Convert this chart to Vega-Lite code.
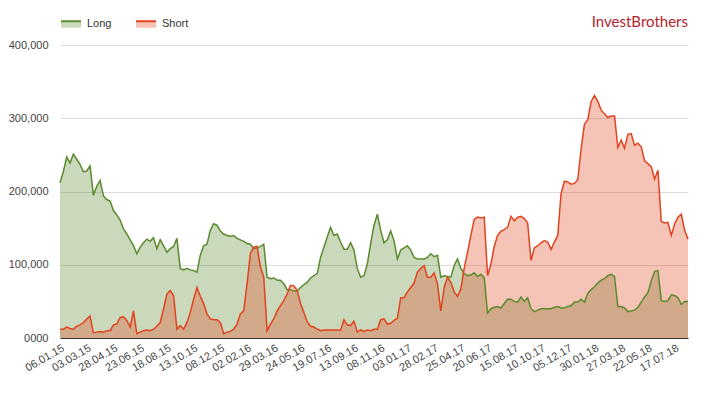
{
  "$schema": "https://vega.github.io/schema/vega-lite/v6.json",
  "width": 628,
  "height": 293,
  "autosize": {"type": "none"},
  "padding": {"left": 60, "top": 45, "right": 21, "bottom": 56},
  "background": "white",
  "title": {
    "text": "InvestBrothers",
    "anchor": "end",
    "frame": "group",
    "font": "Lato",
    "fontSize": 15,
    "fontWeight": "normal",
    "color": "#b3262c",
    "offset": 0,
    "dy": 17
  },
  "config": {
    "view": {"stroke": null},
    "font": "Liberation Sans",
    "axis": {"labelFont": "Liberation Sans", "labelFontSize": 11, "labelColor": "#444"}
  },
  "data": {
    "values": [
      {"d":"06.01.15","Long":212000,"Short":12000},{"d":"13.01.15","Long":227000,"Short":12000},{"d":"20.01.15","Long":247000,"Short":15000},{"d":"27.01.15","Long":239000,"Short":13000},
      {"d":"03.02.15","Long":251000,"Short":12000},{"d":"10.02.15","Long":244000,"Short":16000},{"d":"17.02.15","Long":237000,"Short":18000},{"d":"24.02.15","Long":227000,"Short":21000},
      {"d":"03.03.15","Long":228000,"Short":26000},{"d":"10.03.15","Long":235000,"Short":30000},{"d":"17.03.15","Long":195000,"Short":7000},{"d":"24.03.15","Long":207000,"Short":8000},
      {"d":"31.03.15","Long":215000,"Short":9000},{"d":"07.04.15","Long":194000,"Short":8000},{"d":"14.04.15","Long":189000,"Short":10000},{"d":"21.04.15","Long":187000,"Short":10000},
      {"d":"28.04.15","Long":174000,"Short":18000},{"d":"05.05.15","Long":168000,"Short":19000},{"d":"12.05.15","Long":161000,"Short":28000},{"d":"19.05.15","Long":149000,"Short":29000},
      {"d":"26.05.15","Long":142000,"Short":24000},{"d":"02.06.15","Long":134000,"Short":15000},{"d":"09.06.15","Long":126000,"Short":37000},{"d":"16.06.15","Long":115000,"Short":6000},
      {"d":"23.06.15","Long":124000,"Short":8000},{"d":"30.06.15","Long":130000,"Short":10000},{"d":"07.07.15","Long":135000,"Short":11000},{"d":"14.07.15","Long":132000,"Short":10000},
      {"d":"21.07.15","Long":137000,"Short":12000},{"d":"28.07.15","Long":122000,"Short":16000},{"d":"04.08.15","Long":134000,"Short":21000},{"d":"11.08.15","Long":126000,"Short":40000},
      {"d":"18.08.15","Long":117000,"Short":60000},{"d":"25.08.15","Long":122000,"Short":65000},{"d":"01.09.15","Long":125000,"Short":58000},{"d":"08.09.15","Long":136000,"Short":12000},
      {"d":"15.09.15","Long":95000,"Short":17000},{"d":"22.09.15","Long":93000,"Short":12000},{"d":"29.09.15","Long":95000,"Short":21000},{"d":"06.10.15","Long":93000,"Short":35000},
      {"d":"13.10.15","Long":92000,"Short":53000},{"d":"20.10.15","Long":90000,"Short":69000},{"d":"27.10.15","Long":113000,"Short":57000},{"d":"03.11.15","Long":126000,"Short":47000},
      {"d":"10.11.15","Long":128000,"Short":33000},{"d":"17.11.15","Long":147000,"Short":26000},{"d":"24.11.15","Long":156000,"Short":25000},{"d":"01.12.15","Long":154000,"Short":25000},
      {"d":"08.12.15","Long":146000,"Short":21000},{"d":"15.12.15","Long":142000,"Short":6000},{"d":"22.12.15","Long":140000,"Short":8000},{"d":"29.12.15","Long":139000,"Short":9000},
      {"d":"05.01.16","Long":140000,"Short":12000},{"d":"12.01.16","Long":136000,"Short":19000},{"d":"19.01.16","Long":134000,"Short":33000},{"d":"26.01.16","Long":132000,"Short":37000},
      {"d":"02.02.16","Long":129000,"Short":74000},{"d":"09.02.16","Long":128000,"Short":115000},{"d":"16.02.16","Long":122000,"Short":124000},{"d":"23.02.16","Long":123000,"Short":125000},
      {"d":"01.03.16","Long":125000,"Short":97000},{"d":"08.03.16","Long":128000,"Short":83000},{"d":"15.03.16","Long":83000,"Short":10000},{"d":"22.03.16","Long":81000,"Short":19000},
      {"d":"29.03.16","Long":82000,"Short":26000},{"d":"05.04.16","Long":79000,"Short":37000},{"d":"12.04.16","Long":79000,"Short":44000},{"d":"19.04.16","Long":74000,"Short":51000},
      {"d":"26.04.16","Long":66000,"Short":60000},{"d":"03.05.16","Long":66000,"Short":72000},{"d":"10.05.16","Long":64000,"Short":71000},{"d":"17.05.16","Long":64000,"Short":65000},
      {"d":"24.05.16","Long":69000,"Short":47000},{"d":"31.05.16","Long":73000,"Short":35000},{"d":"07.06.16","Long":76000,"Short":22000},{"d":"14.06.16","Long":82000,"Short":16000},
      {"d":"21.06.16","Long":85000,"Short":15000},{"d":"28.06.16","Long":88000,"Short":12000},{"d":"05.07.16","Long":110000,"Short":10000},{"d":"12.07.16","Long":124000,"Short":11000},
      {"d":"19.07.16","Long":138000,"Short":11000},{"d":"26.07.16","Long":151000,"Short":11000},{"d":"02.08.16","Long":140000,"Short":11000},{"d":"09.08.16","Long":142000,"Short":11000},
      {"d":"16.08.16","Long":131000,"Short":11000},{"d":"23.08.16","Long":121000,"Short":25000},{"d":"30.08.16","Long":121000,"Short":18000},{"d":"06.09.16","Long":130000,"Short":17000},
      {"d":"13.09.16","Long":120000,"Short":23000},{"d":"20.09.16","Long":95000,"Short":8000},{"d":"27.09.16","Long":83000,"Short":11000},{"d":"04.10.16","Long":85000,"Short":9000},
      {"d":"11.10.16","Long":101000,"Short":11000},{"d":"18.10.16","Long":129000,"Short":10000},{"d":"25.10.16","Long":154000,"Short":12000},{"d":"01.11.16","Long":169000,"Short":12000},
      {"d":"08.11.16","Long":147000,"Short":25000},{"d":"15.11.16","Long":130000,"Short":26000},{"d":"22.11.16","Long":134000,"Short":19000},{"d":"29.11.16","Long":146000,"Short":20000},
      {"d":"06.12.16","Long":133000,"Short":24000},{"d":"13.12.16","Long":108000,"Short":27000},{"d":"20.12.16","Long":120000,"Short":55000},{"d":"27.12.16","Long":123000,"Short":55000},
      {"d":"03.01.17","Long":126000,"Short":63000},{"d":"10.01.17","Long":120000,"Short":69000},{"d":"17.01.17","Long":110000,"Short":75000},{"d":"24.01.17","Long":108000,"Short":90000},
      {"d":"31.01.17","Long":108000,"Short":95000},{"d":"07.02.17","Long":108000,"Short":99000},{"d":"14.02.17","Long":110000,"Short":83000},{"d":"21.02.17","Long":115000,"Short":83000},
      {"d":"28.02.17","Long":111000,"Short":89000},{"d":"07.03.17","Long":113000,"Short":74000},{"d":"14.03.17","Long":83000,"Short":37000},{"d":"21.03.17","Long":85000,"Short":69000},
      {"d":"28.03.17","Long":84000,"Short":83000},{"d":"04.04.17","Long":83000,"Short":76000},{"d":"11.04.17","Long":99000,"Short":63000},{"d":"18.04.17","Long":108000,"Short":57000},
      {"d":"25.04.17","Long":95000,"Short":67000},{"d":"02.05.17","Long":88000,"Short":95000},{"d":"09.05.17","Long":85000,"Short":117000},{"d":"16.05.17","Long":86000,"Short":140000},
      {"d":"23.05.17","Long":89000,"Short":162000},{"d":"30.05.17","Long":84000,"Short":165000},{"d":"06.06.17","Long":87000,"Short":164000},{"d":"13.06.17","Long":82000,"Short":165000},
      {"d":"20.06.17","Long":34000,"Short":85000},{"d":"27.06.17","Long":40000,"Short":101000},{"d":"04.07.17","Long":42000,"Short":125000},{"d":"11.07.17","Long":43000,"Short":140000},
      {"d":"18.07.17","Long":41000,"Short":146000},{"d":"25.07.17","Long":47000,"Short":148000},{"d":"01.08.17","Long":53000,"Short":151000},{"d":"08.08.17","Long":53000,"Short":166000},
      {"d":"15.08.17","Long":50000,"Short":160000},{"d":"22.08.17","Long":49000,"Short":165000},{"d":"29.08.17","Long":56000,"Short":166000},{"d":"05.09.17","Long":50000,"Short":163000},
      {"d":"12.09.17","Long":55000,"Short":157000},{"d":"19.09.17","Long":40000,"Short":106000},{"d":"26.09.17","Long":36000,"Short":123000},{"d":"03.10.17","Long":38000,"Short":126000},
      {"d":"10.10.17","Long":40000,"Short":130000},{"d":"17.10.17","Long":40000,"Short":133000},{"d":"24.10.17","Long":40000,"Short":131000},{"d":"31.10.17","Long":40000,"Short":121000},
      {"d":"07.11.17","Long":42000,"Short":131000},{"d":"14.11.17","Long":43000,"Short":140000},{"d":"21.11.17","Long":41000,"Short":197000},{"d":"28.11.17","Long":41000,"Short":214000},
      {"d":"05.12.17","Long":43000,"Short":213000},{"d":"12.12.17","Long":44000,"Short":210000},{"d":"19.12.17","Long":49000,"Short":211000},{"d":"26.12.17","Long":49000,"Short":216000},
      {"d":"02.01.18","Long":53000,"Short":258000},{"d":"09.01.18","Long":49000,"Short":292000},{"d":"16.01.18","Long":61000,"Short":298000},{"d":"23.01.18","Long":66000,"Short":323000},
      {"d":"30.01.18","Long":70000,"Short":331000},{"d":"06.02.18","Long":75000,"Short":323000},{"d":"13.02.18","Long":79000,"Short":311000},{"d":"20.02.18","Long":81000,"Short":306000},
      {"d":"27.02.18","Long":85000,"Short":301000},{"d":"06.03.18","Long":87000,"Short":303000},{"d":"13.03.18","Long":84000,"Short":303000},{"d":"20.03.18","Long":43000,"Short":260000},
      {"d":"27.03.18","Long":43000,"Short":270000},{"d":"03.04.18","Long":41000,"Short":259000},{"d":"10.04.18","Long":36000,"Short":278000},{"d":"17.04.18","Long":37000,"Short":279000},
      {"d":"24.04.18","Long":38000,"Short":263000},{"d":"01.05.18","Long":42000,"Short":266000},{"d":"08.05.18","Long":49000,"Short":261000},{"d":"15.05.18","Long":56000,"Short":242000},
      {"d":"22.05.18","Long":62000,"Short":238000},{"d":"29.05.18","Long":78000,"Short":234000},{"d":"05.06.18","Long":91000,"Short":217000},{"d":"12.06.18","Long":92000,"Short":229000},
      {"d":"19.06.18","Long":51000,"Short":159000},{"d":"26.06.18","Long":50000,"Short":157000},{"d":"03.07.18","Long":51000,"Short":158000},{"d":"10.07.18","Long":59000,"Short":140000},
      {"d":"17.07.18","Long":58000,"Short":156000},{"d":"24.07.18","Long":55000,"Short":165000},{"d":"31.07.18","Long":46000,"Short":169000},{"d":"07.08.18","Long":50000,"Short":147000},
      {"d":"14.08.18","Long":50000,"Short":135000}
    ]
  },
  "transform": [
    {"fold": ["Long", "Short"], "as": ["series", "value"]}
  ],
  "encoding": {
    "x": {
      "field": "d",
      "type": "ordinal",
      "sort": null,
      "scale": {"type": "point", "padding": 0},
      "axis": {
        "title": null,
        "values": ["06.01.15","03.03.15","28.04.15","23.06.15","18.08.15","13.10.15","08.12.15","02.02.16","29.03.16","24.05.16","19.07.16","13.09.16","08.11.16","03.01.17","28.02.17","25.04.17","20.06.17","15.08.17","10.10.17","05.12.17","30.01.18","27.03.18","22.05.18","17.07.18"],
        "labelAngle": -30,
        "labelAlign": "right",
        "labelBaseline": "top",
        "labelPadding": 4,
        "ticks": false,
        "grid": false,
        "domainColor": "#333",
        "domainWidth": 1
      }
    },
    "y": {
      "field": "value",
      "type": "quantitative",
      "stack": null,
      "scale": {"domain": [0, 400000], "nice": false},
      "axis": {
        "title": null,
        "values": [0, 100000, 200000, 300000, 400000],
        "labelExpr": "datum.value === 0 ? '0000' : format(datum.value, ',')",
        "ticks": false,
        "domain": false,
        "gridColor": "#dcdcdc",
        "labelPadding": 12
      }
    },
    "color": {
      "field": "series",
      "type": "nominal",
      "scale": {"domain": ["Long", "Short"], "range": ["#5b8a2d", "#e2431f"]},
      "legend": {
        "title": null,
        "orient": "none",
        "legendX": 0,
        "legendY": -32,
        "direction": "horizontal",
        "symbolType": "M-1,-0.3H1V0.35H-1Z",
        "symbolSize": 400,
        "symbolStrokeWidth": 2,
        "symbolDash": [20, 33],
        "labelFont": "Liberation Sans",
        "labelFontSize": 11,
        "labelColor": "#333",
        "columnPadding": 20,
        "labelOffset": 5,
        "encode": {
          "symbols": {
            "update": {
              "fillOpacity": {"value": 0.32},
              "strokeOpacity": {"value": 1},
              "opacity": {"value": 1}
            }
          }
        }
      }
    }
  },
  "layer": [
    {"mark": {"type": "area", "opacity": 0.32, "interpolate": "linear"}},
    {"mark": {"type": "line", "strokeWidth": 1.5, "interpolate": "linear"}}
  ]
}
